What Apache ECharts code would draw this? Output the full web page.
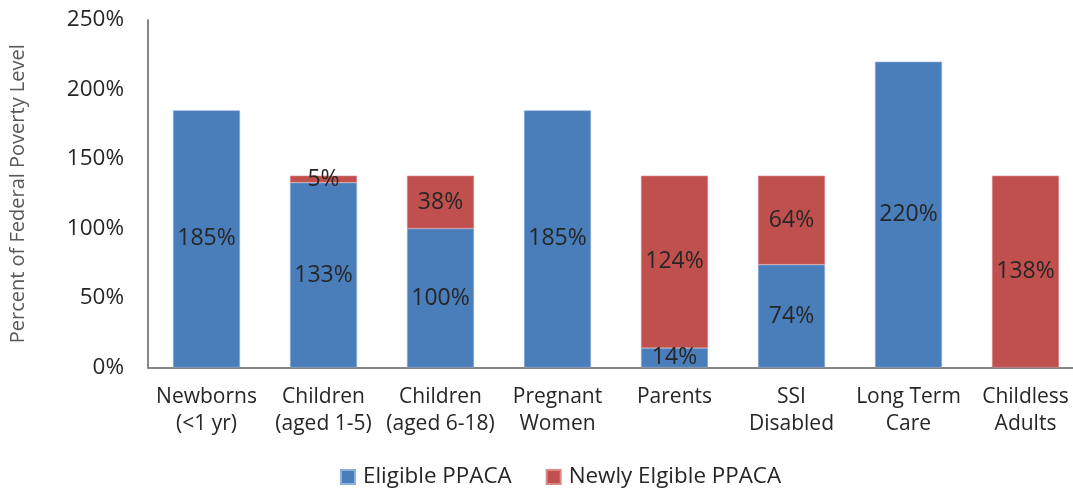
<!DOCTYPE html>
<html>
<head>
<meta charset="utf-8">
<script src="https://cdn.jsdelivr.net/npm/echarts@6/dist/echarts.min.js"></script>
<style>html,body{margin:0;padding:0;background:#fff}#c{width:1073px;height:492px}</style>
</head>
<body>
<div id="c"></div>
<script>
const categories = ["Newborns\n(<1 yr)", "Children\n(aged 1-5)", "Children\n(aged 6-18)", "Pregnant\nWomen", "Parents", "SSI\nDisabled", "Long Term\nCare", "Childless\nAdults"];
const eligible = [185, 133, 100, 185, 14, 74, 220, null];
const newlyEligible = [null, 5, 38, null, 124, 64, null, 138];
const yTicks = [0, 50, 100, 150, 200, 250];

const font = "'Open Sans', 'Noto Sans', sans-serif";
const chart = echarts.init(document.getElementById('c'), null, {renderer: 'canvas'});
const lbl = {
  show: true, position: 'inside', color: '#262626', fontSize: 23, fontFamily: font,
  formatter: p => (p.value == null || p.value === 0) ? '' : p.value + '%'
};
chart.setOption({
  animation: false,
  textStyle: {fontFamily: font},
  grid: {left: 148, top: 20, width: 936, height: 347.5, containLabel: false, outerBoundsMode: 'none'},
  legend: {
    top: 461, left: 335, itemWidth: 14, itemHeight: 14, itemGap: 34,
    icon: 'rect',
    textStyle: {fontSize: 22.4, color: '#262626', fontFamily: font, padding: [0, 0, 0, 3]},
    data: ['Eligible PPACA', 'Newly Elgible PPACA']
  },
  xAxis: {
    type: 'category', data: categories,
    axisLine: {lineStyle: {color: '#868686', width: 2}},
    axisTick: {show: false},
    axisLabel: {fontSize: 21, color: '#262626', lineHeight: 27, margin: 16, interval: 0, fontFamily: font}
  },
  yAxis: {
    type: 'value', min: 0, max: 250, interval: 50,
    name: 'Percent of Federal Poverty Level', nameLocation: 'middle', nameGap: 120,
    nameTextStyle: {fontSize: 20, color: '#595959', fontFamily: font},
    axisLine: {show: true, lineStyle: {color: '#868686', width: 2}},
    axisTick: {show: false},
    splitLine: {show: false},
    axisLabel: {fontSize: 22.5, color: '#262626', margin: 24, fontFamily: font,
      formatter: v => yTicks.includes(v) ? v + '%' : ''}
  },
  series: [
    {name: 'Eligible PPACA', type: 'bar', stack: 's', data: eligible, barWidth: 67,
     itemStyle: {color: '#4a7ebb', borderColor: '#8fb0da', borderWidth: 0.6}, label: lbl},
    {name: 'Newly Elgible PPACA', type: 'bar', stack: 's', data: newlyEligible, barWidth: 67,
     itemStyle: {color: '#c0504d', borderColor: '#d98a88', borderWidth: 0.6}, label: lbl}
  ]
});
</script>
</body>
</html>
